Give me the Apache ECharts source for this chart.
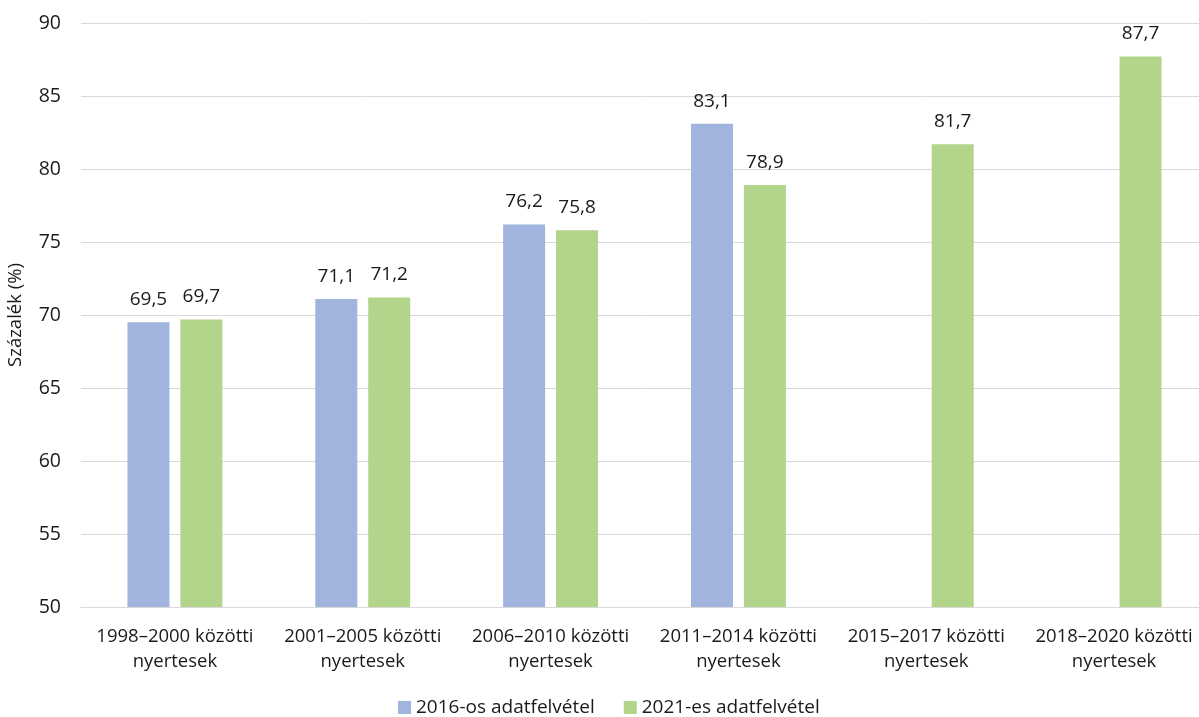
<!DOCTYPE html>
<html>
<head>
<meta charset="utf-8">
<script src="https://cdn.jsdelivr.net/npm/echarts@6/dist/echarts.min.js"></script>
<style>
  html, body { margin: 0; padding: 0; background: #ffffff; }
  #main { width: 1199px; height: 717px; }
</style>
</head>
<body>
<div id="main"></div>
<script>
  // adatok
  var categories = [
    '1998–2000 közötti\nnyertesek',
    '2001–2005 közötti\nnyertesek',
    '2006–2010 közötti\nnyertesek',
    '2011–2014 közötti\nnyertesek',
    '2015–2017 közötti\nnyertesek',
    '2018–2020 közötti\nnyertesek'
  ];
  var survey2016 = [69.5, 71.1, 76.2, 83.1, null, null];
  var survey2021 = [69.7, 71.2, 75.8, 78.9, 81.7, 87.7];
  var seriesNames = ['2016-os adatfelvétel', '2021-es adatfelvétel'];

  var font = 'Open Sans';
  var labelFmt = function (p) {
    return p.value == null ? '' : String(p.value).replace('.', ',');
  };

  var myChart = echarts.init(document.getElementById('main'));
  var option = {
    backgroundColor: '#ffffff',
    textStyle: { fontFamily: font },
    grid: { left: 81, top: 23, bottom: 110, right: -9, outerBoundsMode: 'none' },
    legend: {
      bottom: -5,
      left: 393,
      itemWidth: 13,
      itemHeight: 13,
      itemGap: 29,
      icon: 'rect',
      textStyle: { fontFamily: font, fontSize: 19, color: '#1a1a1a' },
      data: seriesNames
    },
    xAxis: {
      type: 'category',
      data: categories,
      axisLine: { lineStyle: { color: '#d9d9d9', width: 1 } },
      axisTick: { show: false },
      axisLabel: {
        interval: 0,
        margin: 17,
        fontFamily: font,
        fontSize: 18.5,
        lineHeight: 25,
        color: '#1a1a1a'
      }
    },
    yAxis: {
      type: 'value',
      min: 50,
      max: 90,
      interval: 5,
      name: 'Százalék (%)',
      nameLocation: 'middle',
      nameGap: 56,
      nameTextStyle: { fontFamily: font, fontSize: 18.5, color: '#1a1a1a' },
      axisLine: { show: false },
      axisTick: { show: false },
      axisLabel: { margin: 20, fontFamily: font, fontSize: 19.5, color: '#1a1a1a' },
      splitLine: { lineStyle: { color: '#d9d9d9', width: 1 } }
    },
    series: [
      {
        name: seriesNames[0],
        type: 'bar',
        data: survey2016,
        barWidth: 42,
        barGap: '26%',
        itemStyle: { color: '#a0b4dd' },
        label: {
          show: true,
          position: 'top',
          distance: 13,
          fontFamily: font,
          fontSize: 19,
          color: '#1a1a1a',
          formatter: labelFmt
        }
      },
      {
        name: seriesNames[1],
        type: 'bar',
        data: survey2021,
        barWidth: 42,
        itemStyle: { color: '#b3d48b' },
        label: {
          show: true,
          position: 'top',
          distance: 13,
          fontFamily: font,
          fontSize: 19,
          color: '#1a1a1a',
          formatter: labelFmt
        }
      }
    ]
  };
  myChart.setOption(option);
</script>
</body>
</html>
